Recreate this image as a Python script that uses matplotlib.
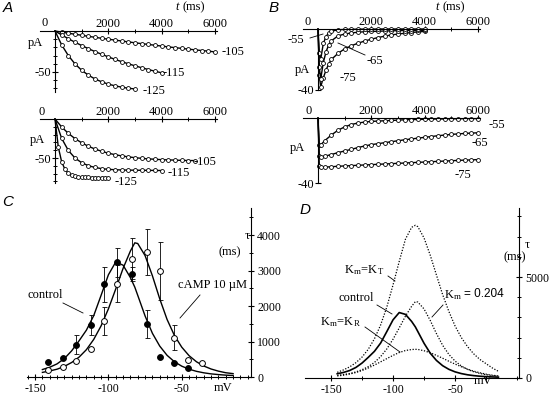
import matplotlib.pyplot as plt
import numpy as np
from matplotlib.lines import Line2D
from matplotlib.ticker import MultipleLocator

plt.rcParams['font.family'] = ['Liberation Serif', 'DejaVu Serif']
plt.rcParams['mathtext.fontset'] = 'custom'
plt.rcParams['mathtext.rm'] = 'Liberation Serif'
plt.rcParams['mathtext.it'] = 'Liberation Serif:italic'
plt.rcParams['axes.unicode_minus'] = False

# ---- A: current traces (pA) vs time (ms) ----
a1_t105 = np.arange(0, 6001, 250)
a1_i105 = [0, -1.4, -2.7, -4.0, -5.2, -6.5, -7.7, -8.9, -10.0, -11.1, -12.2, -13.3, -14.4,
           -15.4, -16.4, -17.4, -18.4, -19.4, -20.3, -21.2, -22.1, -23.0, -23.8, -24.6, -25.5]
a1_t115 = np.arange(0, 4001, 250)
a1_i115 = [0, -4.8, -9.4, -13.7, -17.7, -21.5, -25.1, -28.4, -31.6, -34.6, -37.4, -40.0,
           -42.5, -44.8, -47.0, -49.1, -51.0]
a1_t125 = np.arange(0, 3001, 250)
a1_i125 = [0, -16.9, -30.0, -40.1, -47.9, -53.8, -58.5, -62.0, -64.8, -66.9, -68.5, -69.8, -70.7]

a2_t105 = np.arange(0, 5251, 250)
a2_i105 = [0, -10.2, -18.4, -25.1, -30.5, -34.9, -38.5, -41.4, -43.8, -45.7, -47.3, -48.5,
           -49.6, -50.4, -51.1, -51.6, -52.1, -52.4, -52.7, -53.0, -53.2, -53.3]
a2_t115 = np.arange(0, 4001, 250)
a2_i115 = [0, -24.8, -40.3, -50.0, -56.0, -59.8, -62.1, -63.6, -64.5, -65.0, -65.3, -65.5,
           -65.6, -65.7, -65.8, -65.9, -66.0]
a2_t125 = np.arange(0, 2001, 125)
a2_i125 = [0, -36.1, -54.9, -64.6, -69.6, -72.2, -73.6, -74.2, -74.6, -74.8, -74.9, -75.0,
           -75.0, -75.0, -75.0, -75.0, -75.0]

# ---- B: tail currents ----
b1_t = [0, 50, 100, 200, 300, 400, 500, 750, 1000, 1250, 1500, 1750, 2000, 2250, 2500,
        2750, 3000, 3250, 3500, 3750, 4000]
b1_i75 = [0, -30, -38, -32, -27, -23, -20, -16, -13, -11, -9.3, -7.9, -6.7, -5.6, -4.7,
          -3.9, -3.3, -2.8, -2.3, -1.9, -1.6]
b1_i65 = [0, -25, -33, -22, -15, -10.5, -7.8, -4.5, -3.3, -2.6, -2.1, -1.8, -1.6, -1.5,
          -1.3, -1.2, -1.1, -1.0, -1.0, -0.9, -0.9]
b1_i55 = [0, -16, -20, -9.5, -5.0, -2.6, -1.5, -0.5, -0.3, -0.2, -0.1, -0.1, -0.1, 0, 0,
          0, 0, 0, 0, 0, 0]

b2_t = [0, 50, 100, 250, 500, 750, 1000, 1250, 1500, 1750, 2000, 2250, 2500, 2750, 3000,
        3250, 3500, 3750, 4000, 4250, 4500, 4750, 5000, 5250, 5500, 5750, 6000]
b2_i55 = [0, -16.5, -16.6, -14.0, -10.5, -7.5, -5.5, -4.0, -3.1, -2.5, -2.1, -1.9, -1.7,
          -1.5, -1.3, -1.1, -1.0, -0.9, -0.8, -0.7, -0.6, -0.6, -0.5, -0.5, -0.4, -0.4, -0.4]
b2_i65 = [0, -23.6, -24.0, -23.5, -22.5, -21.3, -20.3, -19.3, -18.2, -17.2, -16.4, -15.8,
          -15.2, -14.6, -14.0, -13.4, -12.9, -12.4, -11.9, -11.4, -10.9, -10.5, -10.1, -9.8,
          -9.5, -9.3, -9.1]
b2_i75 = [0, -29.7, -30.3, -30.2, -30.0, -29.7, -29.5, -29.3, -29.1, -28.9, -28.7, -28.5,
          -28.3, -28.1, -27.9, -27.7, -27.5, -27.3, -27.1, -26.9, -26.7, -26.5, -26.3, -26.1,
          -25.9, -25.8, -25.6]

# ---- C: time constants (ms) vs voltage (mV) ----
ctrl_mv = [-141, -131, -122, -112, -103, -94, -84, -74, -65, -55, -46]
ctrl_tau = [431, 527, 910, 1465, 2611, 3231, 2893, 1485, 570, 395, 265]
ctrl_err = [0, 0, 270, 280, 490, 400, 200, 400, 0, 0, 0]
camp_mv = [-141, -131, -122, -112, -103, -94, -84, -74, -65, -55, -46, -36]
camp_tau = [197, 273, 459, 789, 1586, 2630, 3330, 3513, 2986, 1107, 479, 386]
camp_err = [0, 0, 0, 0, 400, 520, 580, 650, 830, 350, 0, 0]

fit_mv = [-145, -140, -135, -130, -125, -120, -115, -110, -105, -100, -95, -90, -85, -82,
          -80, -75, -70, -65, -60, -55, -50, -45, -40, -35, -30, -25, -20, -15]
ctrl_fit = [210, 275, 370, 520, 740, 1020, 1320, 1730, 2300, 2880, 3240, 3150, 2800, 2530,
            2300, 1720, 1230, 870, 610, 430, 305, 220, 160, 118, 88, 68, 52, 42]
camp_fit = [130, 170, 220, 300, 410, 560, 770, 1060, 1440, 1920, 2480, 3060, 3550, 3780,
            3760, 3420, 2850, 2200, 1620, 1170, 840, 600, 430, 310, 225, 165, 120, 95]
# ---- D: model predictions ----
kt_fit = [280, 400, 550, 755, 1035, 1420, 1940, 2625, 3515, 4610, 5770, 6870, 7460, 7560,
          7490, 6935, 6080, 5100, 4130, 3300, 2580, 2010, 1560, 1200, 920, 710, 500, 330]
kr_fit = [100, 140, 195, 270, 370, 495, 640, 800, 960, 1120, 1260, 1360, 1410, 1420, 1415,
          1350, 1250, 1120, 980, 830, 690, 560, 440, 340, 260, 190, 140, 100]

W, H = 549, 405
fig = plt.figure(figsize=(W / 100, H / 100), dpi=100)


def box(x0, x1, y0, y1):
    # axes placed in pixel coordinates (y from top)
    return fig.add_axes([x0 / W, 1 - y1 / H, (x1 - x0) / W, (y1 - y0) / H])


def txt(x, y, s, size=9, ha='center', va='center', **kw):
    fig.text(x / W, 1 - y / H, s, fontsize=size, ha=ha, va=va, **kw)


def seg(x0, y0, x1, y1):
    fig.add_artist(Line2D([x0 / W, x1 / W], [1 - y0 / H, 1 - y1 / H], color='k', lw=0.6))


def trace_ax(x0, y0, y1, ylo, ymaj, yminor):
    ax = box(x0, x0 + 177, y0, y1)
    ax.set_xlim(-562, 6075)
    ax.set_ylim(ylo, 0)
    ax.spines['right'].set_visible(False)
    ax.spines['bottom'].set_visible(False)
    ax.spines['left'].set_position(('data', 0))
    for s in ax.spines.values():
        s.set_linewidth(0.8)
    ax.xaxis.tick_top()
    ax.set_xticks([2000, 4000, 6000])
    ax.set_xticks([1000, 3000, 5000], minor=True)
    ax.set_yticks([ymaj])
    ax.set_yticks(yminor, minor=True)
    ax.tick_params(which='major', direction='inout', length=4, width=0.8, labelsize=9, pad=1)
    ax.tick_params(axis='x', which='major', pad=-1)
    ax.tick_params(which='minor', direction='inout', length=3, width=0.7)
    ax.patch.set_visible(False)
    return ax


def trace(ax, t, y):
    ax.plot(t, y, '-o', color='k', lw=1.0, ms=2.8, mfc='white', mew=0.6,
            markevery=slice(1, None), clip_on=False)


# A top
ax = trace_ax(40, 31, 92, -74.4, -50, [-10, -20, -30, -40, -60, -70])
trace(ax, a1_t105, a1_i105)
trace(ax, a1_t115, a1_i115)
trace(ax, a1_t125, a1_i125)
# A bottom
ax = trace_ax(40, 119, 183, -82, -50, [-10, -20, -30, -40, -60, -70, -80])
trace(ax, a2_t105, a2_i105)
trace(ax, a2_t115, a2_i115)
trace(ax, a2_t125, a2_i125)
# B top
ax = trace_ax(303, 29, 90, -40, -40, [])
trace(ax, b1_t, b1_i75)
trace(ax, b1_t, b1_i65)
trace(ax, b1_t, b1_i55)
# B bottom
ax = trace_ax(303, 118, 183, -40, -40, [])
trace(ax, b2_t, b2_i55)
trace(ax, b2_t, b2_i65)
trace(ax, b2_t, b2_i75)

# text for A and B
txt(8, 8, 'A', size=11, family='Liberation Sans', style='italic')
txt(274, 8, 'B', size=11, family='Liberation Sans', style='italic')
for x in (177, 437):
    txt(x, 7, 't', style='italic')
    txt(x + 17, 7, '(ms)')
txt(45, 23, '0')
txt(42, 112, '0')
txt(308, 22, '0')
txt(309, 111, '0')
txt(35, 43, 'pA')
txt(37, 140, 'pA')
txt(302, 70, 'pA')
txt(297, 148, 'pA')
txt(233, 52, '-105')
txt(174, 73, '-115')
txt(154, 91, '-125')
txt(205, 162, '-105')
txt(179, 173, '-115')
txt(126, 182, '-125')
txt(296, 40, '-55')
seg(310, 38, 323, 34)
txt(375, 61, '-65')
seg(338, 43, 365, 55)
txt(348, 78, '-75')
txt(497, 125, '-55')
txt(480, 143, '-65')
txt(463, 175, '-75')

# C
axC = box(26.7, 251, 208, 377)
axC.set_xlim(-155.7, -2.8)
axC.set_ylim(0, 4761)
axC.spines['left'].set_visible(False)
axC.spines['top'].set_visible(False)
for s in axC.spines.values():
    s.set_linewidth(0.8)
axC.yaxis.tick_right()
axC.set_yticks([0, 1000, 2000, 3000, 4000])
axC.yaxis.set_minor_locator(MultipleLocator(500))
axC.set_xticks([-150, -100, -50])
axC.xaxis.set_minor_locator(MultipleLocator(5))
axC.tick_params(which='major', direction='inout', length=5, width=0.8, labelsize=8.5, pad=2)
axC.tick_params(which='minor', direction='inout', length=3, width=0.7)
axC.patch.set_visible(False)
axC.plot(fit_mv, ctrl_fit, 'k-', lw=1.0)
axC.plot(fit_mv, camp_fit, 'k-', lw=1.0)
for mv, tau, err, fc in ((ctrl_mv, ctrl_tau, ctrl_err, 'k'), (camp_mv, camp_tau, camp_err, 'white')):
    mv, tau, err = np.array(mv), np.array(tau), np.array(err)
    k = err > 0
    axC.errorbar(mv[k], tau[k], yerr=err[k], fmt='none', ecolor='k', elinewidth=0.6,
                 capsize=1.8, capthick=0.6)
    axC.plot(mv, tau, 'o', color='k', mfc=fc, ms=4.2, mew=0.7, zorder=4, clip_on=False)

txt(8, 202, 'C', size=11, family='Liberation Sans', style='italic')
txt(247, 236, 'τ')
txt(230, 252, '(ms)')
txt(223, 388, 'mV')
txt(45, 295, 'control')
seg(63, 303, 83, 313)
txt(212, 285, 'cAMP 10 µM')
seg(200, 295, 180, 318)

# D
axD = box(305, 519, 208, 378)
axD.set_xlim(-171, 1.6)
axD.set_ylim(0, 8416)
axD.spines['left'].set_visible(False)
axD.spines['top'].set_visible(False)
for s in axD.spines.values():
    s.set_linewidth(0.8)
axD.yaxis.tick_right()
axD.set_yticks([0, 5000])
axD.yaxis.set_minor_locator(MultipleLocator(1000))
axD.set_xticks([-150, -100, -50])
axD.xaxis.set_minor_locator(MultipleLocator(25))
axD.tick_params(which='major', direction='inout', length=5, width=0.8, labelsize=8.5, pad=2)
axD.tick_params(which='minor', direction='inout', length=3, width=0.7)
axD.patch.set_visible(False)
axD.plot(fit_mv, ctrl_fit, 'k-', lw=1.2)
for y in (kt_fit, camp_fit, kr_fit):
    axD.plot(fit_mv, y, color='k', lw=0.9, ls=(0, (1, 1.3)))

txt(305, 210, 'D', size=11, family='Liberation Sans', style='italic')
txt(527, 245, 'τ')
txt(515, 257, '(ms)')
txt(483, 381, 'mV')
txt(364, 270, r'$\mathrm{K_m\!=\!K_T}$')
seg(388, 276, 395, 281)
txt(356, 298, 'control')
seg(377, 305, 392, 314)
txt(340, 322, r'$\mathrm{K_m\!=\!K_R}$')
seg(365, 327, 400, 352)
txt(444, 295, r'$\mathrm{K_m}$', ha='left')
txt(464, 294, '= 0.204', ha='left', family='Liberation Sans', size=8.5)
seg(443, 305, 432, 317)

plt.savefig('out.png', dpi=100)
plt.close()
